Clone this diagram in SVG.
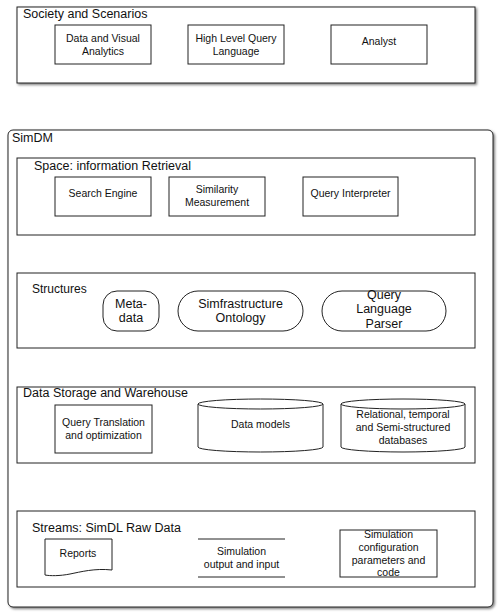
<svg xmlns="http://www.w3.org/2000/svg" width="500" height="613" viewBox="0 0 500 613">
<defs>
<filter id="sh" x="-5%" y="-5%" width="110%" height="115%">
<feDropShadow dx="1.5" dy="1.5" stdDeviation="1" flood-color="#000" flood-opacity="0.5"/>
</filter>
</defs>
<style>
.frame{fill:#fff;stroke:#222;stroke-width:1}
.node{fill:#fff;stroke:#222;stroke-width:1}
.ttl{font-family:"Liberation Sans",Arial,sans-serif;font-size:12.5px;fill:#111}
.lbl{font-family:"Liberation Sans",Arial,sans-serif;font-size:10.5px;fill:#111;text-anchor:middle}
.big{font-family:"Liberation Sans",Arial,sans-serif;font-size:12.5px;fill:#111;text-anchor:middle}
</style>
<rect width="500" height="613" fill="#fff"/>

<g id="society">
<rect class="frame" x="17" y="7" width="458" height="76" filter="url(#sh)"/>
<text class="ttl" x="23" y="18">Society and Scenarios</text>
</g>
<g id="data-visual-analytics">
<rect class="node" x="55" y="25" width="96" height="39"/>
<text class="lbl" x="103" y="42">Data and Visual</text>
<text class="lbl" x="103" y="55">Analytics</text>
</g>
<g id="high-level-query-language">
<rect class="node" x="188" y="25" width="96" height="39"/>
<text class="lbl" x="236" y="42">High Level Query</text>
<text class="lbl" x="236" y="55">Language</text>
</g>
<g id="analyst">
<rect class="node" x="331" y="25" width="96" height="39"/>
<text class="lbl" x="379" y="45">Analyst</text>
</g>

<g id="simdm">
<rect class="frame" x="8" y="130" width="485" height="477" rx="5" filter="url(#sh)"/>
<text class="ttl" x="12" y="142">SimDM</text>
</g>

<g id="space">
<rect class="frame" x="17" y="158" width="458" height="77"/>
<text class="ttl" x="34" y="170">Space: information Retrieval</text>
</g>
<g id="search-engine">
<rect class="node" x="55" y="177" width="96" height="39"/>
<text class="lbl" x="103" y="197">Search Engine</text>
</g>
<g id="similarity-measurement">
<rect class="node" x="169" y="177" width="96" height="39"/>
<text class="lbl" x="217" y="193">Similarity</text>
<text class="lbl" x="217" y="206">Measurement</text>
</g>
<g id="query-interpreter">
<rect class="node" x="303" y="177" width="95" height="39"/>
<text class="lbl" x="350.5" y="197">Query Interpreter</text>
</g>

<g id="structures">
<rect class="frame" x="17" y="273" width="458" height="75"/>
<text class="lbl" x="32" y="293" style="text-anchor:start;font-size:12px">Structures</text>
</g>
<g id="meta-data">
<rect class="node" x="103" y="291" width="56" height="40" rx="14"/>
<text class="big" x="131" y="308">Meta-</text>
<text class="big" x="131" y="322">data</text>
</g>
<g id="simfrastructure-ontology">
<rect class="node" x="178" y="291" width="125" height="40" rx="20"/>
<text class="big" x="240.5" y="308">Simfrastructure</text>
<text class="big" x="240.5" y="322">Ontology</text>
</g>
<g id="query-language-parser">
<rect class="node" x="322" y="291" width="124" height="40" rx="20"/>
<text class="big" x="384" y="299">Query</text>
<text class="big" x="384" y="313">Language</text>
<text class="big" x="384" y="328">Parser</text>
</g>

<g id="data-storage">
<rect class="frame" x="17" y="387" width="458" height="76"/>
<text class="ttl" x="23" y="397">Data Storage and Warehouse</text>
</g>
<g id="query-translation">
<rect class="node" x="55" y="405" width="97" height="48"/>
<text class="lbl" x="103.5" y="426">Query Translation</text>
<text class="lbl" x="103.5" y="439">and optimization</text>
</g>
<g id="data-models">
<path class="node" d="M198,404 A62.5,5 0 0 1 323,404 L323,447 A62.5,5 0 0 1 198,447 Z"/>
<path class="node" fill="none" d="M198,404 A62.5,5 0 0 0 323,404"/>
<text class="lbl" x="260.5" y="428">Data models</text>
</g>
<g id="relational-databases">
<path class="node" d="M341,404 A62,5 0 0 1 465,404 L465,447 A62,5 0 0 1 341,447 Z"/>
<path class="node" fill="none" d="M341,404 A62,5 0 0 0 465,404"/>
<text class="lbl" x="403" y="418">Relational, temporal</text>
<text class="lbl" x="403" y="431">and Semi-structured</text>
<text class="lbl" x="403" y="444">databases</text>
</g>

<g id="streams">
<rect class="frame" x="17" y="511" width="458" height="76"/>
<text class="ttl" x="32" y="532">Streams: SimDL Raw Data</text>
</g>
<g id="reports">
<path class="node" d="M45,539 L112,539 L112,570 C95,568 80,572 70,574 C60,576 50,576 45,575 Z"/>
<text class="lbl" x="78" y="557">Reports</text>
</g>
<g id="simulation-output">
<line x1="198" y1="539" x2="285" y2="539" stroke="#222" stroke-width="1"/>
<line x1="198" y1="577" x2="285" y2="577" stroke="#222" stroke-width="1"/>
<text class="lbl" x="241.5" y="555">Simulation</text>
<text class="lbl" x="241.5" y="568">output and input</text>
</g>
<g id="simulation-config">
<rect class="node" x="340" y="530" width="97" height="47"/>
<text class="lbl" x="388.5" y="538">Simulation</text>
<text class="lbl" x="388.5" y="551">configuration</text>
<text class="lbl" x="388.5" y="564">parameters and</text>
<text class="lbl" x="388.5" y="576">code</text>
</g>
<g id="connectors"></g>
</svg>
